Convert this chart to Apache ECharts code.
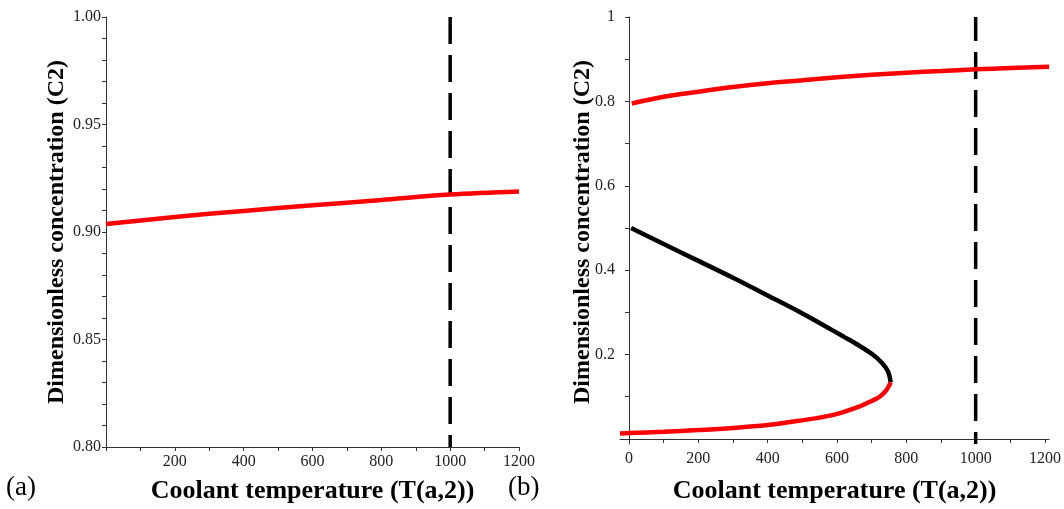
<!DOCTYPE html>
<html>
<head>
<meta charset="utf-8">
<title>C2 vs coolant temperature</title>
<script src="https://cdn.jsdelivr.net/npm/echarts@6/dist/echarts.min.js"></script>
<style>
    html, body { margin: 0; padding: 0; background: #fff; }
    #chart { width: 1064px; height: 509px; }
</style>
</head>
<body>
<div id="chart"></div>
<script>
// panel (a): single stable branch
const tempA = [0, 200, 400, 600, 800, 1000, 1200];
const concA = [0.9037, 0.9070, 0.9098, 0.9124, 0.9149, 0.9174, 0.9188];

// panel (b): upper red branch
const tempUpper = [8, 100, 200, 300, 400, 500, 600, 700, 800, 900, 1000, 1100, 1212];
const concUpper = [0.795, 0.811, 0.823, 0.834, 0.843, 0.850, 0.857, 0.863, 0.868, 0.872, 0.876, 0.879, 0.882];

// panel (b): black middle branch (unstable)
const tempMiddle = [6, 100, 200, 300, 400, 490, 560, 620, 662, 703, 730, 747, 755];
const concMiddle = [0.500, 0.462, 0.422, 0.382, 0.340, 0.302, 0.270, 0.242, 0.222, 0.200, 0.180, 0.160, 0.134];

// panel (b): lower red branch
const tempLower = [-26, 0, 100, 200, 300, 400, 490, 590, 662, 700, 723, 742, 755];
const concLower = [0.013, 0.014, 0.017, 0.021, 0.026, 0.033, 0.043, 0.057, 0.076, 0.090, 0.100, 0.115, 0.134];

// vertical dashed marker
const markTemp = 1000;

// tick labels
const xTicks = [0, 100, 200, 300, 400, 500, 600, 700, 800, 900, 1000, 1100, 1200];
const xLabelsA = [200, 400, 600, 800, 1000, 1200];
const xLabelsB = [0, 200, 400, 600, 800, 1000, 1200];
const yTicksA = [0.80, 0.81, 0.82, 0.83, 0.84, 0.85, 0.86, 0.87, 0.88, 0.89, 0.90,
                 0.91, 0.92, 0.93, 0.94, 0.95, 0.96, 0.97, 0.98, 0.99, 1.00];
const yLabelsA = [0.80, 0.85, 0.90, 0.95, 1.00];
const yTicksB = [0, 0.1, 0.2, 0.3, 0.4, 0.5, 0.6, 0.7, 0.8, 0.9, 1];
const yLabelsB = [0.2, 0.4, 0.6, 0.8, 1];

const yTitle = 'Dimensionless concentration (C2)';
const xTitle = 'Coolant temperature (T(a,2))';

const zip = (xs, ys) => xs.map((x, i) => [x, ys[i]]);

const serif = 'Liberation Serif';
const axisColor = '#333';
const labelStyle = { fontFamily: serif, fontSize: 16, color: '#222' };
const yTitleStyle = { fontFamily: serif, fontWeight: 'bold', fontSize: 24, color: '#000' };

function xAxisOf(gridIndex, min, max, labels, gap) {
    return {
        type: 'value',
        gridIndex: gridIndex,
        min: min,
        max: max,
        name: xTitle,
        nameLocation: 'middle',
        nameGap: gap,
        nameTextStyle: { fontFamily: serif, fontWeight: 'bold', fontSize: 26, color: '#000' },
        axisLine: { onZero: true, lineStyle: { color: axisColor, width: 1 } },
        axisTick: { customValues: xTicks, length: 4, lineStyle: { color: axisColor } },
        axisLabel: Object.assign({
            customValues: labels,
            margin: 7,
            formatter: (v) => String(v)
        }, labelStyle),
        splitLine: { show: false }
    };
}

function yAxisOf(gridIndex, min, max, ticks, labels, digits, name) {
    return {
        type: 'value',
        gridIndex: gridIndex,
        min: min,
        max: max,
        name: name,
        nameLocation: 'middle',
        nameGap: 36,
        nameTextStyle: yTitleStyle,
        axisLine: { onZero: true, lineStyle: { color: axisColor, width: 1 } },
        axisTick: { customValues: ticks, length: 4, lineStyle: { color: axisColor } },
        axisLabel: Object.assign({
            customValues: labels,
            margin: 5,
            formatter: (v) => digits ? v.toFixed(digits) : String(+v.toFixed(1))
        }, labelStyle),
        splitLine: { show: false }
    };
}

function curve(name, xi, data, color) {
    return {
        name: name,
        type: 'line',
        xAxisIndex: xi,
        yAxisIndex: xi,
        data: data,
        smooth: 0.35,
        showSymbol: false,
        lineStyle: { color: color, width: 4.5 },
        z: 3
    };
}

function dashed(xi, lo, hi) {
    return {
        type: 'line',
        xAxisIndex: xi,
        yAxisIndex: xi,
        data: [[markTemp, lo], [markTemp, hi]],
        showSymbol: false,
        lineStyle: { color: '#000', width: 3.5, type: [27, 11], dashOffset: 15 },
        z: 2
    };
}

const chart = echarts.init(document.getElementById('chart'), null, { renderer: 'canvas' });

chart.setOption({
    animation: false,
    backgroundColor: '#fff',
    grid: [
        { left: 106, top: 17, width: 413, height: 433 },
        { left: 620, top: 17, width: 432, height: 435 }
    ],
    xAxis: [
        xAxisOf(0, 0, 1200, xLabelsA, 31),
        xAxisOf(1, -26, 1212, xLabelsB, 34)
    ],
    yAxis: [
        yAxisOf(0, 0.8, 1.0, yTicksA, yLabelsA, 2, yTitle),
        // right title is drawn below as graphic, the axis name gets pushed too far left
        yAxisOf(1, -0.012, 1, yTicksB, yLabelsB, 0, '')
    ],
    series: [
        curve('(a)', 0, zip(tempA, concA), '#ff0000'),
        dashed(0, 0.8, 1.0),
        curve('upper', 1, zip(tempUpper, concUpper), '#ff0000'),
        curve('middle', 1, zip(tempMiddle, concMiddle), '#000000'),
        curve('lower', 1, zip(tempLower, concLower), '#ff0000'),
        dashed(1, -0.012, 1)
    ],
    graphic: [
        { type: 'text', left: 6, top: 474, style: { text: '(a)', fontFamily: serif, fontSize: 27, fill: '#000' } },
        { type: 'text', left: 508, top: 474, style: { text: '(b)', fontFamily: serif, fontSize: 27, fill: '#000' } },
        {
            type: 'text', x: 583, y: 232, rotation: Math.PI / 2,
            style: {
                text: yTitle, fontFamily: serif, fontWeight: 'bold', fontSize: 24, fill: '#000',
                align: 'center', verticalAlign: 'middle'
            }
        }
    ]
});
</script>
</body>
</html>
